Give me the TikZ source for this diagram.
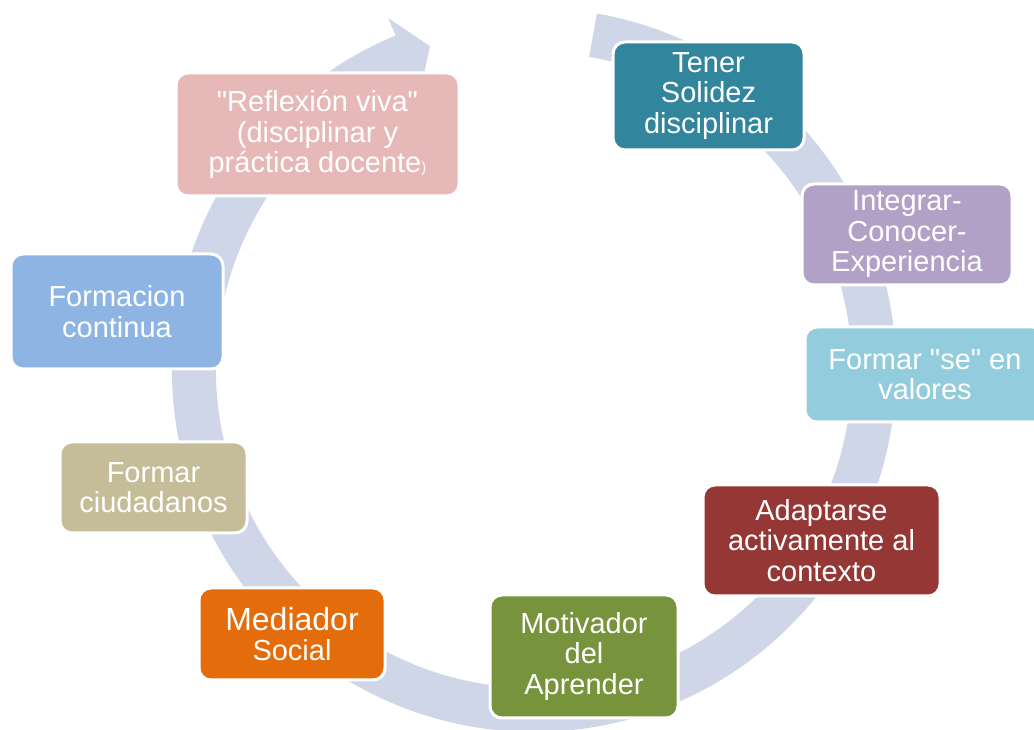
\documentclass[tikz,border=0pt]{standalone}
\usepackage{fontspec}
\setmainfont{Liberation Sans}
\usetikzlibrary{calc}
\definecolor{ringblue}{RGB}{207,214,231}
\definecolor{rosebox}{RGB}{230,185,184}
\definecolor{tealbox}{RGB}{49,133,156}
\definecolor{lilacbox}{RGB}{178,161,199}
\definecolor{skybox}{RGB}{147,205,221}
\definecolor{brickbox}{RGB}{149,55,53}
\definecolor{olivebox}{RGB}{119,147,60}
\definecolor{orangebox}{RGB}{228,108,10}
\definecolor{sandbox}{RGB}{196,189,151}
\definecolor{bluebox}{RGB}{142,180,227}
\newcommand{\qt}{\textquotedbl}
\newcommand{\makestep}[6]{
	\node[stepbox, fill=#2, minimum width=#3, minimum height=#4] (#1) at (#5) {#6};
}

\begin{document}
\begin{tikzpicture}[x=1pt,y=1pt,
	stepbox/.style={draw=white, line width=3pt, rounded corners=12pt, inner sep=0pt,
		align=center, text=white, font=\fontsize{29}{30.5}\selectfont}]
	\useasboundingbox (0,0) rectangle (1034,730);
	\clip (0,0) rectangle (1034,730);
	\coordinate (O) at (534,360);

	% ring with arrow head
	\fill[ringblue] ($(O)+(80:362)$) arc[start angle=80, end angle=-247.5, radius=362]
		-- ($(O)+(112.5:381)$) -- ($(O)+(107.8:340)$) -- ($(O)+(112.5:299)$)
		-- ($(O)+(112.5:318)$) arc[start angle=-247.5, end angle=80, radius=318] -- cycle;

	\makestep{reflexion}{rosebox}{283}{123}{317.5,595.5}{\qt Reflexión viva\qt\\(disciplinar y\\práctica docente{\fontsize{15}{15}\selectfont)}}
	\makestep{solidez}{tealbox}{191}{108}{708.5,634}{Tener\\Solidez\\disciplinar}
	\makestep{integrar}{lilacbox}{210}{101}{907,495.5}{Integrar-\\Conocer-\\Experiencia}
	\makestep{valores}{skybox}{240}{95}{925,355.5}{Formar \qt se\qt{} en\\valores}
	\makestep{contexto}{brickbox}{237}{111}{821.5,189.5}{Adaptarse\\activamente al\\contexto}
	\makestep{motivador}{olivebox}{188}{123}{584,73.5}{Motivador\\del\\Aprender}
	\makestep{mediador}{orangebox}{186}{92}{292,96}{\fontsize{32}{34}\selectfont Mediador\\Social}
	\makestep{ciudadanos}{sandbox}{187}{91}{153.5,242.5}{Formar\\ciudadanos}
	\makestep{formacion}{bluebox}{212}{115}{117,418.5}{Formacion\\continua}
\end{tikzpicture}
\end{document}
